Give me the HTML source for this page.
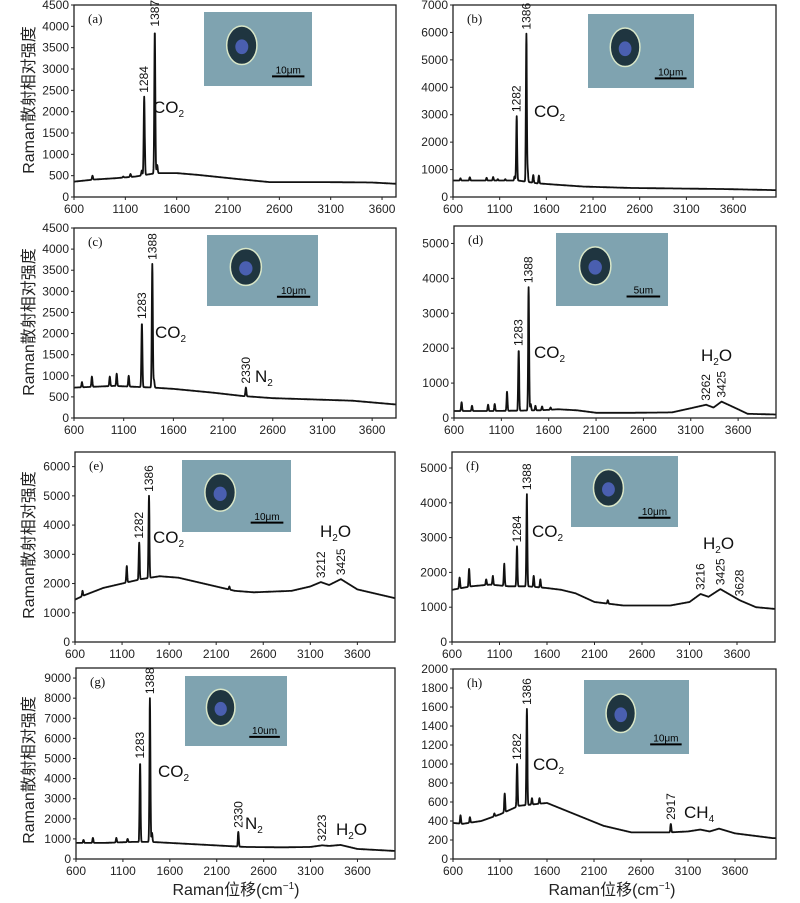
<!DOCTYPE html>
<html><head><meta charset="utf-8">
<style>
body{margin:0;background:#fff;}
svg{display:block;font-family:"Liberation Sans","Noto Sans CJK SC",sans-serif;}
</style></head>
<body>
<div style="position:relative;width:800px;height:903px;">
<svg id="fig" width="800" height="903" viewBox="0 0 800 903"></svg>
</div>
<script>
// ---- data arrays (wavenumber, intensity) ----
const baseA=[[600,360],[800,410],[1000,440],[1200,480],[1300,520],[1400,560],[1600,560],[1800,520],[2000,470],[2200,420],[2500,350],[3000,350],[3500,340],[3736,310]];
const peaksA=[[780,500],[1080,480],[1150,540],[1260,620],[1284,2350],[1387,3900],[1410,750]];
const labelsA=[1284,1387];
const baseB=[[600,600],[1000,600],[1300,600],[1500,500],[1700,450],[2000,380],[2500,330],[3000,310],[3500,290],[4060,250]];
const peaksB=[[680,680],[780,720],[960,700],[1030,730],[1080,650],[1160,650],[1260,750],[1282,2950],[1386,5950],[1400,950],[1460,800],[1520,780]];
const labelsB=[1282,1386];
const baseC=[[600,720],[1000,760],[1200,740],[1400,720],[1600,690],[2000,600],[2300,520],[2600,470],[3000,440],[3400,410],[3840,320]];
const peaksC=[[680,850],[780,980],[960,980],[1030,1050],[1150,1000],[1283,2250],[1388,3650],[1405,900],[2330,720]];
const labelsC=[1283,1388,2330];
const baseD=[[600,200],[1000,200],[1500,220],[1700,250],[1900,220],[2100,150],[2500,150],[2900,160],[3100,280],[3262,380],[3340,300],[3425,470],[3600,250],[3700,120],[4000,100]];
const peaksD=[[680,450],[790,350],[960,380],[1030,400],[1160,750],[1283,1950],[1388,3750],[1410,400],[1460,350],[1530,330],[1620,300]];
const labelsD=[1283,1388,3262,3425];
const baseE=[[600,1450],[700,1600],[900,1850],[1100,2000],[1300,2150],[1500,2250],[1700,2200],[1900,2050],[2100,1900],[2300,1750],[2500,1700],[2900,1750],[3100,1900],[3212,2050],[3300,1950],[3425,2150],[3600,1800],[3800,1650],[4000,1500]];
const peaksE=[[680,1750],[1150,2600],[1282,3400],[1386,5000],[2240,1900]];
const labelsE=[1282,1386,3212,3425];
const baseF=[[600,1500],[800,1600],[1000,1650],[1200,1600],[1400,1600],[1600,1550],[1750,1500],[1900,1400],[2100,1150],[2400,1050],[2900,1050],[3100,1150],[3216,1380],[3300,1300],[3425,1520],[3628,1200],[3800,1000],[4000,950]];
const peaksF=[[680,1850],[780,2100],[960,1800],[1030,1900],[1150,2250],[1284,2750],[1388,4250],[1460,1900],[1530,1800],[2240,1200]];
const labelsF=[1284,1388,3216,3425,3628];
const baseG=[[600,800],[900,800],[1200,850],[1400,850],[1600,800],[2000,700],[2400,600],[2800,580],[3100,600],[3223,680],[3300,650],[3420,700],[3600,500],[4000,400]];
const peaksG=[[680,950],[780,1050],[1030,1050],[1150,1000],[1283,4800],[1388,8000],[1410,1300],[2330,1350]];
const labelsG=[1283,1388,2330,3223];
const baseH=[[600,380],[700,370],[900,400],[1100,470],[1300,560],[1500,580],[1600,590],[1800,510],[2000,430],[2200,350],[2500,280],[2900,280],[3100,290],[3230,310],[3330,290],[3430,320],[3600,270],[4000,220]];
const peaksH=[[680,460],[780,440],[1040,480],[1150,690],[1282,1000],[1386,1580],[1440,640],[1520,640],[2917,370]];
const labelsH=[1282,1386,2917];
const xTicks=[600,1100,1600,2100,2600,3100,3600];

const NS="http://www.w3.org/2000/svg";
const svg=document.getElementById('fig');
function mk(tag,attrs,parent){const e=document.createElementNS(NS,tag);for(const k in attrs)e.setAttribute(k,attrs[k]);(parent||svg).appendChild(e);return e;}
function baseAt(base,x){for(let i=0;i<base.length-1;i++){if(x>=base[i][0]&&x<=base[i+1][0]){const t=(x-base[i][0])/(base[i+1][0]-base[i][0]);return base[i][1]+t*(base[i+1][1]-base[i][1]);}}return base[base.length-1][1];}
function valAt(base,peaks,x){let v=baseAt(base,x);for(const p of peaks){const h=p[1]-baseAt(base,p[0]);const s=5;const dx=x-p[0];v+=h*Math.exp(-dx*dx/(2*s*s));}return v;}

const panels=[
 {id:'a',L:74,R:396,T:5,B:197,xmax:3736,ymax:4500,step:500,base:baseA,peaks:peaksA,labels:labelsA,photo:[204,12,108,74],scale:'10μm',species:[['CO','2',153,113]]},
 {id:'b',L:453,R:776,T:5,B:197,xmax:4060,ymax:7000,step:1000,base:baseB,peaks:peaksB,labels:labelsB,photo:[588,14,106,74],scale:'10μm',species:[['CO','2',534,117]]},
 {id:'c',L:74,R:396,T:228,B:418,xmax:3840,ymax:4500,step:500,base:baseC,peaks:peaksC,labels:labelsC,photo:[207,235,111,71],scale:'10μm',species:[['CO','2',155,338],['N','2',255,382]]},
 {id:'d',L:454,R:776,T:226,B:418,xmax:4000,ymax:5500,step:1000,base:baseD,peaks:peaksD,labels:labelsD,photo:[556,233,112,73],scale:'5um',species:[['CO','2',534,358],['H','2O',701,361]]},
 {id:'e',L:75,R:395,T:452,B:642,xmax:4000,ymax:6500,step:1000,base:baseE,peaks:peaksE,labels:labelsE,photo:[182,460,109,72],scale:'10μm',species:[['CO','2',153,543],['H','2O',320,537]]},
 {id:'f',L:452,R:775,T:452,B:642,xmax:4000,ymax:5460,step:1000,base:baseF,peaks:peaksF,labels:labelsF,photo:[571,456,107,71],scale:'10μm',species:[['CO','2',532,537],['H','2O',703,549]]},
 {id:'g',L:76,R:395,T:668,B:859,xmax:4000,ymax:9500,step:1000,base:baseG,peaks:peaksG,labels:labelsG,photo:[185,676,102,70],scale:'10um',species:[['CO','2',158,777],['N','2',245,829],['H','2O',336,835]]},
 {id:'h',L:453,R:776,T:669,B:859,xmax:4036,ymax:2000,step:200,base:baseH,peaks:peaksH,labels:labelsH,photo:[584,680,105,74],scale:'10μm',species:[['CO','2',533,770],['CH','4',684,818]]}
];

for(const P of panels){
  const g=mk('g',{});
  
  
  const sx=x=>P.L+(x-600)/(P.xmax-600)*(P.R-P.L);
  const sy=y=>P.B-y/P.ymax*(P.B-P.T);
  const [px,py,pw,ph]=P.photo;
  const ph1=mk('g',{},g);
  
  
  mk('rect',{x:px,y:py,width:pw,height:ph,fill:'#7fa3b0'},ph1);
  mk('ellipse',{cx:px+pw*0.35,cy:py+ph*0.45,rx:pw*0.14,ry:ph*0.26,fill:'#1f3540',stroke:'#d8e6c8','stroke-width':1.5},ph1);
  mk('ellipse',{cx:px+pw*0.35,cy:py+ph*0.47,rx:pw*0.06,ry:ph*0.1,fill:'#4a5fb0'},ph1);
  mk('line',{x1:px+pw*0.63,x2:px+pw*0.93,y1:py+ph*0.87,y2:py+ph*0.87,stroke:'#000','stroke-width':2},ph1);
  const st=mk('text',{x:px+pw*0.78,y:py+ph*0.83,'font-size':10,'text-anchor':'middle',fill:'#000'},ph1);
  st.textContent=P.scale;
  let d='';
  for(let x=600;x<=P.xmax;x+=2){const v=Math.min(valAt(P.base,P.peaks,x),P.ymax);d+=(x===600?'M':'L')+sx(x).toFixed(1)+','+sy(v).toFixed(1);}
  const line=mk('path',{d:d,fill:'none',stroke:'#111','stroke-width':1.8,'stroke-linejoin':'round'},g);
  
  
  const box=mk('rect',{x:P.L,y:P.T,width:P.R-P.L,height:P.B-P.T,fill:'none',stroke:'#222','stroke-width':1.3},g);
  
  
  for(const t of xTicks){
    mk('line',{x1:sx(t),x2:sx(t),y1:P.B,y2:P.B+3,stroke:'#222'},g);
    const tx=mk('text',{x:sx(t),y:P.B+16,'font-size':12,'text-anchor':'middle',fill:'#222'},g);
    
    
    tx.textContent=t;
  }
  for(let v=0;v<=P.ymax;v+=P.step){
    mk('line',{x1:P.L-3,x2:P.L,y1:sy(v),y2:sy(v),stroke:'#222'},g);
    const ty=mk('text',{x:P.L-5,y:sy(v)+4,'font-size':12,'text-anchor':'end',fill:'#222'},g);
    
    
    ty.textContent=v;
  }
  const pl=mk('text',{x:P.L+14,y:P.T+18,'font-size':13,'font-family':'Liberation Serif, serif',fill:'#111'},g);
  
  
  pl.textContent='('+P.id+')';
  for(const lx of P.labels){
    const v=Math.min(valAt(P.base,P.peaks,lx),P.ymax);
    const X=sx(lx)+4, Y=sy(v)-4;
    const lt=mk('text',{x:X,y:Y,'font-size':12,transform:'rotate(-90 '+X+' '+Y+')',fill:'#111'},g);
    
    
    lt.textContent=lx;
  }
  for(const s of P.species){
    const sp=mk('text',{x:s[2],y:s[3],'font-size':17,fill:'#111'},g);
    
    
    if(s[1]==='2O'){
      sp.textContent='H';
      const sub=mk('tspan',{'font-size':10,dy:4},sp);sub.textContent='2';
      const o=mk('tspan',{dy:-4},sp);o.textContent='O';
    } else {
      sp.textContent=s[0];
      const sub=mk('tspan',{'font-size':10,dy:4},sp);sub.textContent=s[1];
    }
  }
}
const yT=[100,322,545,770];
for(const cy of yT){
  const t=mk('text',{x:34,y:cy,'font-size':16,'text-anchor':'middle',transform:'rotate(-90 34 '+cy+')',fill:'#222'});
  
  
  t.textContent='Raman散射相对强度';
}
for(const cx of [236,612]){
  const t=mk('text',{x:cx,y:895,'font-size':16,'text-anchor':'middle',fill:'#222'});
  
  
  t.textContent='Raman位移(cm';
  const s=mk('tspan',{'font-size':10,dy:-6},t);s.textContent='−1';
  const c=mk('tspan',{dy:6},t);c.textContent=')';
}
</script>
</body></html>
